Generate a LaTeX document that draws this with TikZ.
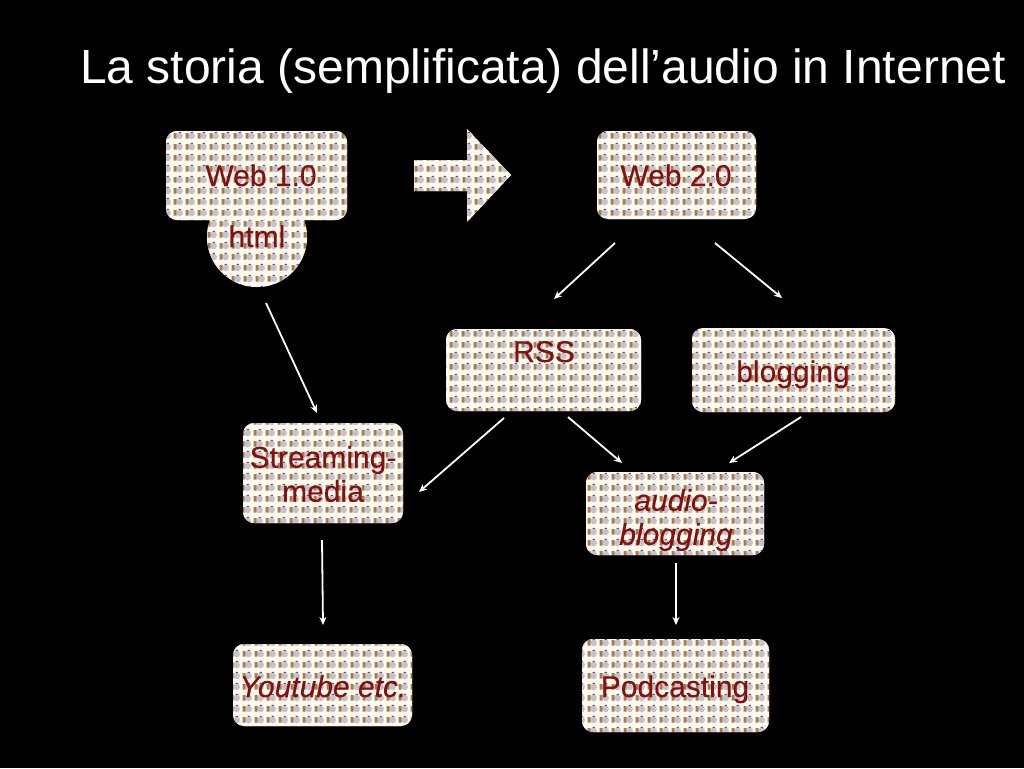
\documentclass[tikz,border=0pt]{standalone}
\usepackage{fontspec}
\setmainfont{Liberation Sans}
\usetikzlibrary{arrows.meta,patterns}
\definecolor{tileBase}{HTML}{FFFAEE}
\definecolor{tileGray}{HTML}{C6C1CE}
\definecolor{tileBrown}{HTML}{A47C50}
\definecolor{tileDark}{HTML}{5E5856}
\definecolor{labelRed}{HTML}{851010}
\pgfdeclarepatterninherentlycolored{beadtile}{\pgfqpoint{0pt}{0pt}}{\pgfqpoint{11.5pt}{11pt}}{\pgfqpoint{11.5pt}{11pt}}{%
  \pgfsetfillcolor{tileBase}%
  \pgfpathrectangle{\pgfqpoint{0pt}{0pt}}{\pgfqpoint{11.5pt}{11pt}}\pgfusepath{fill}%
  \pgfsetfillcolor{tileGray}%
  \pgfpathellipse{\pgfqpoint{7pt}{5.5pt}}{\pgfqpoint{3.3pt}{0pt}}{\pgfqpoint{0pt}{3.7pt}}\pgfusepath{fill}%
  \pgfsetfillcolor{tileBrown}%
  \pgfpathrectangle{\pgfqpoint{0.6pt}{2.6pt}}{\pgfqpoint{3.2pt}{6pt}}\pgfusepath{fill}%
  \pgfsetfillcolor{tileDark}%
  \pgfpathrectangle{\pgfqpoint{5.8pt}{8.8pt}}{\pgfqpoint{2.4pt}{1pt}}\pgfusepath{fill}%
}
\tikzset{
  x=1pt,y=-1pt,
  tiled/.style={preaction={fill=tileBase},pattern=beadtile,draw=none},
  tilebox/.style={tiled,rounded corners=11pt,inner sep=0pt,outer sep=0pt},
  tiledisc/.style={tiled,circle,inner sep=0pt,outer sep=0pt,minimum size=100pt},
  lbl/.style={text=labelRed,font=\fontsize{30}{34}\selectfont\addfontfeature{FakeBold=0.25},inner sep=0pt,anchor=base},
  lblm/.style={text=labelRed,font=\fontsize{30}{34}\selectfont\addfontfeature{FakeBold=0.25},inner sep=0pt,align=center,anchor=center},
  flow/.style={draw=white,line width=1.8pt,-{Stealth[length=8pt,width=7pt]}},
  heading/.style={text=white,font=\fontsize{48}{52}\selectfont,inner sep=0pt,anchor=base}
}
\begin{document}
\begin{tikzpicture}
\useasboundingbox (0,0) rectangle (1024,768);
\fill[black] (0,0) rectangle (1024,768);
\node[heading] (title) at (543,83) {La storia (semplificata) dell’audio in Internet};
\node[tiledisc] (html) at (257,237) {};
\node[tilebox,minimum width=181pt,minimum height=89pt] (web1) at (256.5,175.5) {};
\node[tilebox,minimum width=159pt,minimum height=88pt] (web2) at (676.5,175) {};
\node[tilebox,minimum width=195pt,minimum height=82pt] (rss) at (543.5,370) {};
\node[tilebox,minimum width=203pt,minimum height=84pt] (blog) at (793.5,370) {};
\node[tilebox,minimum width=160pt,minimum height=100pt] (stream) at (323,473) {};
\node[tilebox,minimum width=178pt,minimum height=83pt] (audio) at (675,513.5) {};
\node[tilebox,minimum width=179pt,minimum height=82pt] (yt) at (322.5,685) {};
\node[tilebox,minimum width=187pt,minimum height=93pt] (pod) at (675.5,685.5) {};
\path[tiled] (414,160) -- (467,160) -- (467,129) -- (511,175) -- (467,222) -- (467,191) -- (414,191) -- cycle;
\node[lbl] (t1) at (261,186) {Web 1.0};
\node[lbl] (t2) at (676,186) {Web 2.0};
\node[lbl] (t3) at (257,247) {html};
\node[lbl] (t4) at (544,362) {RSS};
\node[lbl] (t5) at (793,382) {blogging};
\node[lblm] (t6) at (323,474) {Streaming-\\media};
\node[lblm,font=\fontsize{30}{34}\selectfont\itshape\addfontfeature{FakeBold=0.25}] (t7) at (676,520) {audio-\\blogging};
\node[lbl,font=\fontsize{30}{34}\selectfont\itshape\addfontfeature{FakeBold=0.25}] (t8) at (323,697) {Youtube etc.};
\node[lbl] (t9) at (675,697) {Podcasting};
\draw[flow] ([shift={(-61.5,68)}]web2.center) -- ([shift={(10.5,-71)}]rss.center);
\draw[flow] ([shift={(38.5,68)}]web2.center) -- ([shift={(-11.5,-72)}]blog.center);
\draw[flow] ([shift={(9,66)}]html.center) -- ([shift={(-6,-60)}]stream.center);
\draw[flow] ([shift={(-39.5,48)}]rss.center) -- ([shift={(96,19)}]stream.center);
\draw[flow] ([shift={(24.5,47)}]rss.center) -- ([shift={(-53,-50.5)}]audio.center);
\draw[flow] ([shift={(7.5,47)}]blog.center) -- ([shift={(54,-50.5)}]audio.center);
\draw[flow] ([shift={(-1,67)}]stream.center) -- ([shift={(0.5,-60)}]yt.center);
\draw[flow] ([shift={(1,49.5)}]audio.center) -- ([shift={(0.5,-60.5)}]pod.center);
\end{tikzpicture}
\end{document}
